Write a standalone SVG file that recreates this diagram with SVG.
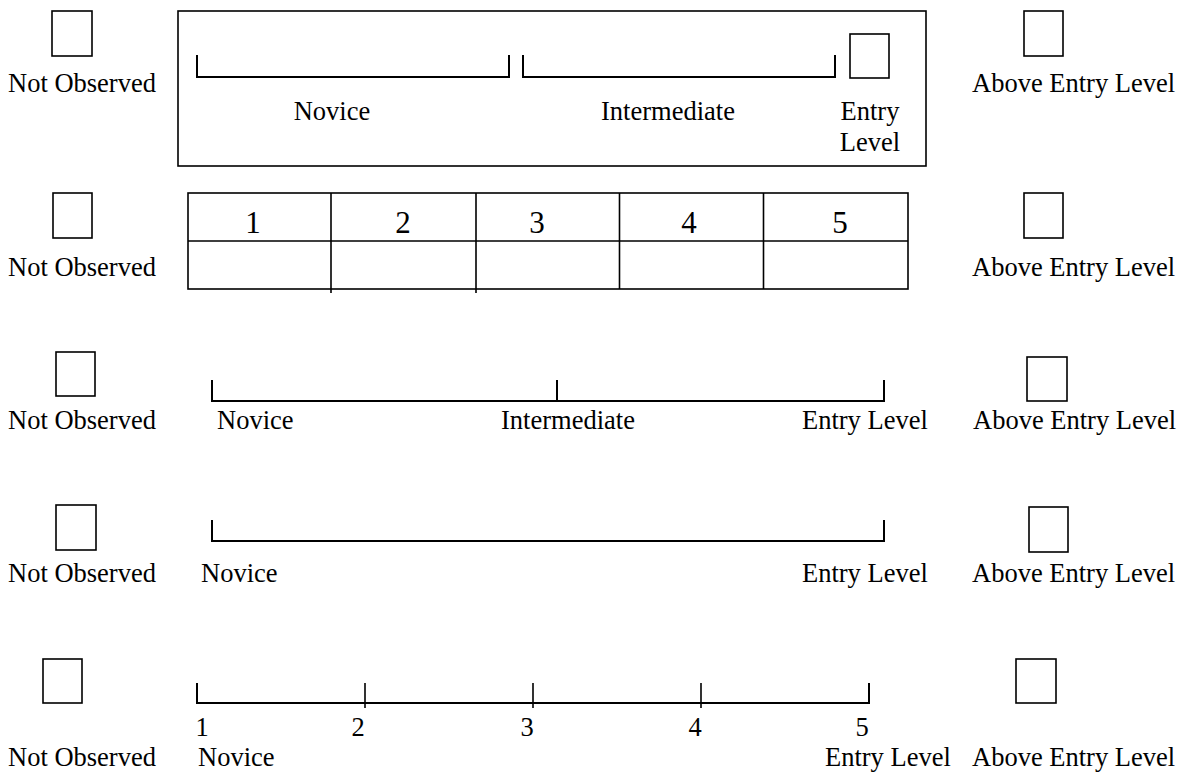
<svg xmlns="http://www.w3.org/2000/svg" width="1182" height="772" viewBox="0 0 1182 772">
<style>
text{font-family:"Liberation Serif","Times New Roman",serif;font-size:26.5px;fill:#000}
.box{fill:none;stroke:#000;stroke-width:1.6}
.ln{fill:none;stroke:#000;stroke-width:2}
.m{text-anchor:middle}
.big{font-size:31px}
</style>
<rect width="1182" height="772" fill="#fff"/>
<!-- Row 1 -->
<g id="row1">
  <g id="r1-no"><rect class="box" x="52" y="11" width="40" height="45"/><text x="8" y="92">Not Observed</text></g>
  <g id="r1-scale">
    <rect class="box" x="178" y="11" width="748" height="155"/>
    <path class="ln" d="M197 55V77H509V55M523 55V77H835V55"/>
    <rect class="box" x="850" y="34" width="39" height="44"/>
    <text class="m" x="332" y="120">Novice</text>
    <text class="m" x="668" y="120">Intermediate</text>
    <text class="m" x="870" y="120">Entry</text>
    <text class="m" x="870" y="151">Level</text>
  </g>
  <g id="r1-ael"><rect class="box" x="1024" y="11" width="39" height="45"/><text x="972" y="92">Above Entry Level</text></g>
</g>
<!-- Row 2 -->
<g id="row2">
  <g id="r2-no"><rect class="box" x="53" y="193" width="39" height="45"/><text x="8" y="276">Not Observed</text></g>
  <g id="r2-table">
    <rect class="box" x="188" y="193" width="720" height="96"/>
    <path class="box" d="M188 241H908M619.5 193V289M763.5 193V289"/>
    <path class="box" d="M331 193V293M476 193V293"/>
    <text class="m big" x="253" y="233">1</text>
    <text class="m big" x="403" y="233">2</text>
    <text class="m big" x="537" y="233">3</text>
    <text class="m big" x="689" y="233">4</text>
    <text class="m big" x="840" y="233">5</text>
  </g>
  <g id="r2-ael"><rect class="box" x="1024" y="193" width="39" height="45"/><text x="972" y="276">Above Entry Level</text></g>
</g>
<!-- Row 3 -->
<g id="row3">
  <g id="r3-no"><rect class="box" x="56" y="352" width="39" height="44"/><text x="8" y="429">Not Observed</text></g>
  <g id="r3-scale">
    <path class="ln" d="M212 380V401H884V380M557 380V401"/>
    <text x="217" y="429">Novice</text>
    <text x="501" y="429">Intermediate</text>
    <text x="802" y="429">Entry Level</text>
  </g>
  <g id="r3-ael"><rect class="box" x="1027" y="357" width="40" height="44"/><text x="973" y="429">Above Entry Level</text></g>
</g>
<!-- Row 4 -->
<g id="row4">
  <g id="r4-no"><rect class="box" x="56" y="505" width="40" height="45"/><text x="8" y="582">Not Observed</text></g>
  <g id="r4-scale">
    <path class="ln" d="M212 520V541H884V520"/>
    <text x="201" y="582">Novice</text>
    <text x="802" y="582">Entry Level</text>
  </g>
  <g id="r4-ael"><rect class="box" x="1029" y="507" width="39" height="45"/><text x="972" y="582">Above Entry Level</text></g>
</g>
<!-- Row 5 -->
<g id="row5">
  <g id="r5-no"><rect class="box" x="43" y="659" width="39" height="44"/><text x="8" y="766">Not Observed</text></g>
  <g id="r5-scale">
    <path class="ln" d="M197 683V703H869V683"/>
    <path class="box" d="M365 683V708M533 683V708M701 683V708"/>
    <text class="m" x="202" y="736">1</text>
    <text class="m" x="358" y="736">2</text>
    <text class="m" x="527" y="736">3</text>
    <text class="m" x="695" y="736">4</text>
    <text class="m" x="862" y="736">5</text>
    <text x="198" y="766">Novice</text>
    <text x="825" y="766">Entry Level</text>
  </g>
  <g id="r5-ael"><rect class="box" x="1016" y="659" width="40" height="44"/><text x="972" y="766">Above Entry Level</text></g>
</g>
</svg>
